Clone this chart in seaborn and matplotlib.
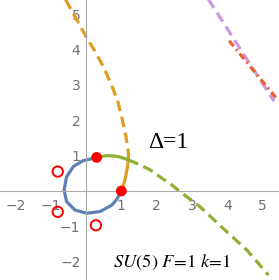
import numpy as np
import matplotlib
matplotlib.use("Agg")
import matplotlib.pyplot as plt
import seaborn as sns

# loop (solid blue)
blue_x = [0.30, 0.11, -0.08, -0.36, -0.55, -0.62, -0.55, -0.31, 0.02, 0.40, 0.73, 0.88, 1.00]
blue_y = [0.95, 0.90, 0.86, 0.69, 0.40, 0.03, -0.30, -0.54, -0.63, -0.58, -0.40, -0.22, 0.00]

# orange branch: solid part then dashed part
orange_x = [1.00, 1.10, 1.17, 1.20]
orange_y = [0.00, 0.31, 0.66, 0.90]
orange_dx = [1.20, 1.20, 1.16, 1.13, 1.02, 0.89, 0.70, 0.49, 0.25, 0.00, -0.26, -0.55, -0.62]
orange_dy = [0.90, 1.07, 1.35, 1.54, 2.05, 2.57, 3.05, 3.52, 3.96, 4.37, 4.84, 5.36, 5.48]

# green branch: solid part then dashed part
green_x = [0.30, 0.40, 0.58, 0.80, 0.96, 1.20]
green_y = [0.95, 0.97, 1.00, 0.99, 0.96, 0.88]
green_dx = [1.20, 1.48, 1.81, 2.09, 2.40, 2.66, 3.22, 3.88, 4.55, 5.16]
green_dy = [0.88, 0.76, 0.60, 0.40, 0.19, -0.02, -0.44, -1.06, -1.67, -2.38]

# purple dashed and red dot-dashed lines at the top right
purple_x = [3.42, 4.38, 5.32]
purple_y = [5.49, 3.99, 2.54]
red_x = [4.05, 4.72, 5.39]
red_y = [4.25, 3.43, 2.62]

# points
dots_x = [0.30, 1.00]
dots_y = [0.95, 0.00]
open_x = [-0.80, -0.80, 0.28]
open_y = [0.55, -0.59, -0.97]

ticks = [-2, -1, 1, 2, 3, 4, 5]

sns.set_style("white")
plt.rcParams["mathtext.fontset"] = "stix"
fig = plt.figure(figsize=(2.79, 2.80), dpi=100)
ax = fig.add_axes([0, 0, 1, 1])

blue = "#5E81B5"
orange = "#E19C24"
green = "#8FB032"
lw = 2.3

sns.lineplot(x=blue_x, y=blue_y, sort=False, estimator=None, color=blue, lw=lw, ax=ax)
sns.lineplot(x=orange_x, y=orange_y, sort=False, estimator=None, color=orange, lw=lw, ax=ax)
sns.lineplot(x=orange_dx, y=orange_dy, sort=False, estimator=None, color=orange, lw=lw,
             linestyle=(0, (3.3, 1.8)), ax=ax)
sns.lineplot(x=green_x, y=green_y, sort=False, estimator=None, color=green, lw=lw, ax=ax)
sns.lineplot(x=green_dx, y=green_dy, sort=False, estimator=None, color=green, lw=lw,
             linestyle=(0, (3.3, 1.8)), ax=ax)
sns.lineplot(x=purple_x, y=purple_y, sort=False, estimator=None, color="#CC99DD", lw=lw,
             linestyle=(0, (3.3, 1.8)), ax=ax)
sns.lineplot(x=red_x, y=red_y, sort=False, estimator=None, color="#EB6235", lw=lw,
             linestyle=(0, (2.2, 1.2, 0.6, 1.2)), ax=ax)

sns.scatterplot(x=dots_x, y=dots_y, color="#FF0000", s=60, edgecolor="none", zorder=5, ax=ax)
ax.scatter(open_x, open_y, s=55, facecolors="none", edgecolors="#FF0000", linewidths=1.4, zorder=5)

ax.set_xlim(-2.433, 5.459)
ax.set_ylim(-2.518, 5.403)

for s in ["top", "right"]:
    ax.spines[s].set_visible(False)
for s in ["left", "bottom"]:
    ax.spines[s].set_position(("data", 0))
    ax.spines[s].set_color("#ababab")
    ax.spines[s].set_linewidth(0.8)

ax.set_xticks(ticks)
ax.set_yticks(ticks)
ax.set_xticks(np.arange(-2.4, 5.5, 0.2), minor=True)
ax.set_yticks(np.arange(-2.4, 5.5, 0.2), minor=True)
ax.tick_params(which="major", direction="in", length=4, width=0.8, color="#ababab",
               labelcolor="#707070", labelsize=10)
ax.tick_params(which="minor", direction="in", length=2.2, width=0.6, color="#ababab")
ax.tick_params(axis="x", which="major", pad=6)
ax.tick_params(axis="y", which="major", pad=4)

ax.text(1.77, 1.22, "Δ=1", family="Liberation Serif", fontsize=17, color="black")
ax.text(0.77, -2.14, r"$SU(5)\ F\!=\!1\ k\!=\!1$", fontsize=13.3, color="black")

fig.savefig("out.png", dpi=100)
